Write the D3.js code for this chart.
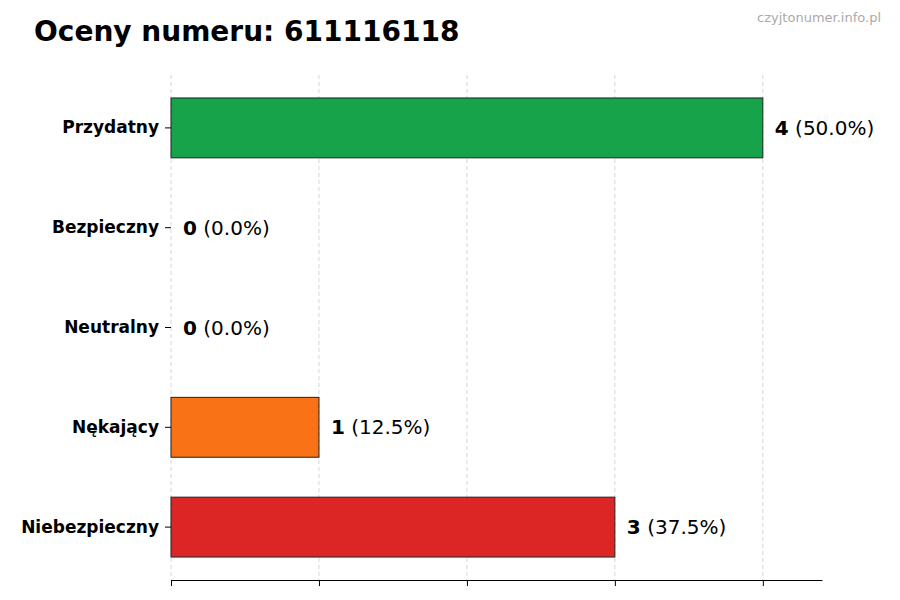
<!DOCTYPE html>
<html><head><meta charset="utf-8">
<script src="https://cdn.jsdelivr.net/npm/d3@7"></script>
<style>body{margin:0;background:#fff;font-family:"DejaVu Sans",sans-serif}</style>
</head><body><svg id="c" width="900" height="600"></svg>
<script>
const categories = ['Przydatny', 'Bezpieczny', 'Neutralny', 'Nękający', 'Niebezpieczny']
const counts = [4, 0, 0, 1, 3]
const percents = ['50.0%', '0.0%', '0.0%', '12.5%', '37.5%']
const colors = ['#16a34a', '#9ca3af', '#6b7280', '#f97316', '#dc2626']
const xTicks = [0, 1, 2, 3, 4]

const svg = d3.select('#c')
const x = d3.scaleLinear().domain([0, 4.4]).range([171, 822])
const y = d3.scaleBand().domain(categories).range([78, 577]).paddingInner(0.4).paddingOuter(0.2)

svg.append('text').attr('x', 34).attr('y', 41).attr('font-size', 28).attr('font-weight', 'bold')
    .text('Oceny numeru: 611116118')
svg.append('text').attr('x', 881).attr('y', 22).attr('text-anchor', 'end').attr('font-size', 13)
    .attr('fill', '#aaa').text('czyjtonumer.info.pl')

svg.selectAll('.grid').data(xTicks).enter().append('line')
    .attr('x1', d => x(d)).attr('x2', d => x(d)).attr('y1', 75).attr('y2', 580)
    .attr('stroke', '#ccc').attr('stroke-dasharray', '4,3').attr('stroke-width', 0.8)

svg.selectAll('.bar').data(counts).enter().append('rect')
    .attr('x', x(0)).attr('y', (d, i) => y(categories[i]))
    .attr('width', d => x(d) - x(0)).attr('height', y.bandwidth())
    .attr('fill', (d, i) => colors[i]).attr('stroke', '#222').attr('stroke-width', 1)

const lab = svg.selectAll('.lab').data(counts).enter().append('text')
    .attr('x', d => x(d) + 12).attr('y', (d, i) => y(categories[i]) + y.bandwidth() / 2 + 7)
    .attr('font-size', 20)
lab.append('tspan').attr('font-weight', 'bold').text(d => d)
lab.append('tspan').text((d, i) => ' (' + percents[i] + ')')

const xa = svg.append('g').attr('transform', 'translate(0,580)')
    .call(d3.axisBottom(x).tickValues(xTicks).tickFormat('').tickSizeOuter(0))
xa.select('.domain').attr('stroke', '#000')

const ya = svg.append('g').attr('transform', 'translate(171,0)')
    .call(d3.axisLeft(y).tickSizeOuter(0).tickPadding(6))
ya.select('.domain').remove()
ya.selectAll('text').attr('font-size', 17).attr('font-weight', 'bold').attr('fill', '#000')
    .attr('font-family', 'DejaVu Sans')
</script></body></html>
